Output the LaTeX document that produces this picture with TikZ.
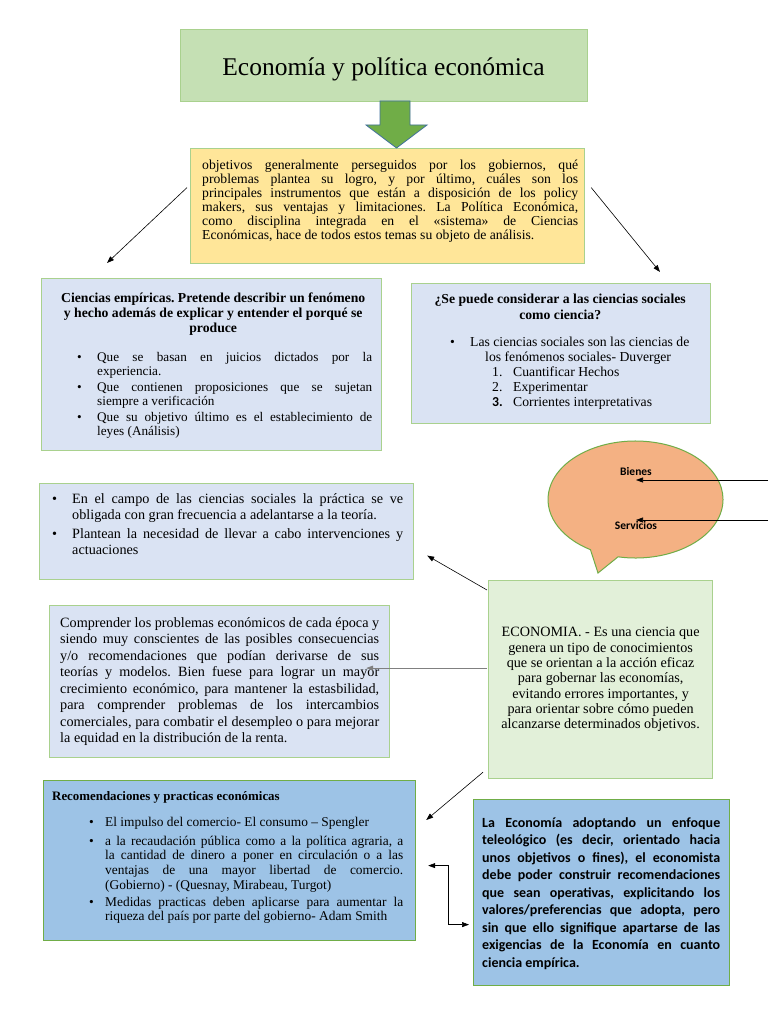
\documentclass[tikz,border=0pt]{standalone}
\usepackage{fontspec}
\setmainfont{Liberation Serif}
\newfontfamily\calibri{Carlito}
\usetikzlibrary{arrows.meta}
\definecolor{EcoGreen}{HTML}{70AD47}
\definecolor{EcoLine}{HTML}{A9D18E}
\definecolor{EcoTitle}{HTML}{C5E0B4}
\definecolor{EcoMint}{HTML}{E2F0D9}
\definecolor{EcoSand}{HTML}{FFE699}
\definecolor{EcoMist}{HTML}{DAE3F3}
\definecolor{EcoSky}{HTML}{9DC3E6}
\definecolor{EcoPeach}{HTML}{F4B183}
\definecolor{EcoSteel}{HTML}{41719C}
\frenchspacing
\hyphenpenalty=10000
\exhyphenpenalty=10000
\tolerance=9999
% list line: marker at #1, text at #2 (pt from the text's left edge)
\newcommand{\mitem}[4]{\par{\leftskip=#2pt\noindent\llap{\rlap{#3}\hskip\dimexpr#2pt-#1pt\relax}#4\par}}
\tikzset{
  ecobox/.style={
    draw=EcoLine,
    line width=1.2pt,
    inner sep=0pt,
    anchor=north west
  },
  ecotext/.style={
    inner sep=0pt,
    anchor=north west,
    align=justify
  },
  ecoarrow/.style={-{Triangle[length=7pt,width=5pt]},line width=.6pt,draw=black},
  ecoboth/.style={{Triangle[length=7pt,width=5pt]}-{Triangle[length=7pt,width=5pt]},line width=.6pt,draw=black}
}

\begin{document}
\begin{tikzpicture}[x=1pt,y=-1pt]
  \useasboundingbox (0,0) rectangle (768,1024);
  \fill[white] (0,0) rectangle (768,1024);

  \node[ecobox,fill=EcoTitle,minimum width=407pt,minimum height=72pt] (titlebox) at (180,29) {};
  \node[font=\fontsize{25.5}{29}\selectfont] (titletext) at (383.5,69) {Economía y política económica};

  \node[ecobox,fill=EcoSand,minimum width=394pt,minimum height=115pt] (objbox) at (190,148) {};
  \node[ecotext,text width=376pt,font=\fontsize{13.7}{14}\selectfont] (objtext) at (202,159.5) {objetivos generalmente perseguidos por los gobiernos, qué\linebreak problemas plantea su logro, y por último, cuáles son los\linebreak principales instrumentos que están a disposición de los policy\linebreak makers, sus ventajas y limitaciones. La Política Económica,\linebreak como disciplina integrada en el «sistema» de Ciencias\linebreak Económicas, hace de todos estos temas su objeto de análisis.};

  \draw[fill=EcoGreen,draw=EcoSteel,line width=.8pt] (380,101) -- (410,101) -- (410,125) -- (427,125) -- (396.5,148) -- (366,125) -- (380,125) -- cycle;

  \node[ecobox,fill=EcoMist,minimum width=340pt,minimum height=172pt] (empbox) at (41,278) {};
  \node[ecotext,text width=318pt,font=\fontsize{13.2}{13.5}\selectfont] (emptext) at (54,293) {%
    {\centering\bfseries\fontsize{13.7}{15}\selectfont Ciencias empíricas. Pretende describir un fenómeno\\ y hecho además de explicar y entender el porqué se\\ produce\par}
    \vspace{15.5pt}
    \mitem{23}{43}{\textbullet}{Que se basan en juicios dictados por la\linebreak experiencia.}
    \vspace{3pt}
    \mitem{23}{43}{\textbullet}{Que contienen proposiciones que se sujetan\linebreak siempre a verificación}
    \vspace{3pt}
    \mitem{23}{43}{\textbullet}{Que su objetivo último es el establecimiento de\linebreak leyes (Análisis)}};

  \node[ecobox,fill=EcoMist,minimum width=299pt,minimum height=140pt] (socbox) at (411,283) {};
  \node[ecotext,text width=300pt,font=\fontsize{13.7}{15}\selectfont] (soctext) at (410,294) {%
    {\centering\bfseries\fontsize{13.7}{16}\selectfont ¿Se puede considerar a las ciencias sociales\\ como ciencia?\par}
    \vspace{12pt}
    \mitem{40}{60}{\textbullet}{Las ciencias sociales son las ciencias de\newline\hspace*{15pt}los fenómenos sociales- Duverger}
    \mitem{82}{103}{1.}{Cuantificar Hechos}
    \mitem{82}{103}{2.}{Experimentar}
    \mitem{82}{103}{{\calibri\bfseries 3.}}{Corrientes interpretativas}};

  \path[draw=EcoGreen,fill=EcoPeach,line width=1pt] (635.5,499.5) ++(101.5:87.5 and 58.5) arc[start angle=101.5,end angle=-239,x radius=87.5,y radius=58.5] -- (598,573) -- cycle;
  \node[font=\calibri\bfseries\fontsize{11.5}{13}\selectfont] (bienes) at (636,472) {Bienes};
  \node[font=\calibri\bfseries\fontsize{11.5}{13}\selectfont] (servicios) at (636,526) {Servicios};
  \coordinate (bienesfrom) at (768,480);
  \coordinate (serviciosfrom) at (768,520);
  \draw[ecoarrow] (bienesfrom) -- (bienesfrom -| bienes.south);
  \draw[ecoarrow] (serviciosfrom) -- (serviciosfrom -| servicios.north);

  \node[ecobox,fill=EcoMist,minimum width=374pt,minimum height=96pt] (campobox) at (39,483) {};
  \node[ecotext,text width=351pt,font=\fontsize{14.2}{16}\selectfont] (campotext) at (52,487.5) {%
    \mitem{0}{20}{\textbullet}{En el campo de las ciencias sociales la práctica se ve\linebreak obligada con gran frecuencia a adelantarse a la teoría.}
    \vspace{2.5pt}
    \mitem{0}{20}{\textbullet}{Plantean la necesidad de llevar a cabo intervenciones y\linebreak actuaciones}};

  \node[ecobox,fill=EcoMist,minimum width=340pt,minimum height=152pt] (compbox) at (49,605) {};
  \node[ecotext,text width=319pt,font=\fontsize{14.2}{16.5}\selectfont] (comptext) at (60,617) {Comprender los problemas económicos de cada época y\linebreak siendo muy conscientes de las posibles consecuencias\linebreak y/o recomendaciones que podían derivarse de sus\linebreak teorías y modelos. Bien fuese para lograr un mayor\linebreak crecimiento económico, para mantener la estasbilidad,\linebreak para comprender problemas de los intercambios\linebreak comerciales, para combatir el desempleo o para mejorar\linebreak la equidad en la distribución de la renta.};

  \node[ecobox,fill=EcoMint,minimum width=224pt,minimum height=198pt,align=center,font=\fontsize{14.2}{15.3}\selectfont] (econbox) at (488,580) {ECONOMIA. - Es una ciencia que\\ genera un tipo de conocimientos\\ que se orientan a la acción eficaz\\ para gobernar las economías,\\ evitando errores importantes, y\\ para orientar sobre cómo pueden\\ alcanzarse determinados objetivos.};

  \node[ecobox,fill=EcoSky,draw=EcoGreen,minimum width=372pt,minimum height=160pt] (recbox) at (43,780) {};
  \node[ecotext,text width=351pt,font=\fontsize{13.4}{14.7}\selectfont] (rectext) at (52,791) {%
    {\bfseries\fontsize{12.9}{14.7}\selectfont Recomendaciones y practicas económicas\par}
    \vspace{11.3pt}
    \mitem{37}{53}{\textbullet}{El impulso del comercio- El consumo – Spengler}
    \vspace{4.3pt}
    \mitem{37}{53}{\textbullet}{a la recaudación pública como a la política agraria, a\linebreak la cantidad de dinero a poner en circulación o a las\linebreak ventajas de una mayor libertad de comercio.\linebreak (Gobierno) - (Quesnay, Mirabeau, Turgot)}
    \vspace{2.3pt}
    \mitem{37}{53}{\textbullet}{Medidas practicas deben aplicarse para aumentar la\linebreak riqueza del país por parte del gobierno- Adam Smith}};

  \node[ecobox,fill=EcoSky,draw=EcoGreen,minimum width=256pt,minimum height=186pt] (telbox) at (473,799) {};
  \node[ecotext,text width=238pt,font=\calibri\bfseries\fontsize{14}{17.5}\selectfont] (teltext) at (482,817) {La Economía adoptando un enfoque teleológico (es decir, orientado hacia unos objetivos o fines), el economista debe poder construir recomendaciones que sean operativas, explicitando los valores/preferencias que adopta, pero sin que ello signifique apartarse de las exigencias de la Economía en cuanto ciencia empírica.};

  \draw[ecoarrow] ([xshift=-3pt,yshift=18.5pt]objbox.west) -- ([xshift=66pt,yshift=15pt]empbox.north west);
  \draw[ecoarrow] ([xshift=6pt,yshift=18.5pt]objbox.east) -- ([xshift=249pt,yshift=11pt]socbox.north west);
  \draw[ecoarrow] ([xshift=-1pt,yshift=-10pt]econbox.north west) -- ([xshift=13pt,yshift=-24pt]campobox.east);
  \draw[ecoarrow,draw=gray] ([xshift=-1pt,yshift=11.5pt]econbox.west) -- ([xshift=-24pt,yshift=13.5pt]compbox.east);
  \draw[ecoarrow] ([xshift=-5pt,yshift=7pt]econbox.south west) -- ([xshift=10pt,yshift=-40pt]recbox.north east);
  \draw[ecoboth] ([xshift=12pt,yshift=-5pt]recbox.east) -- ++(20,0) |- ([xshift=-4pt,yshift=-32pt]telbox.west);
\end{tikzpicture}
\end{document}
